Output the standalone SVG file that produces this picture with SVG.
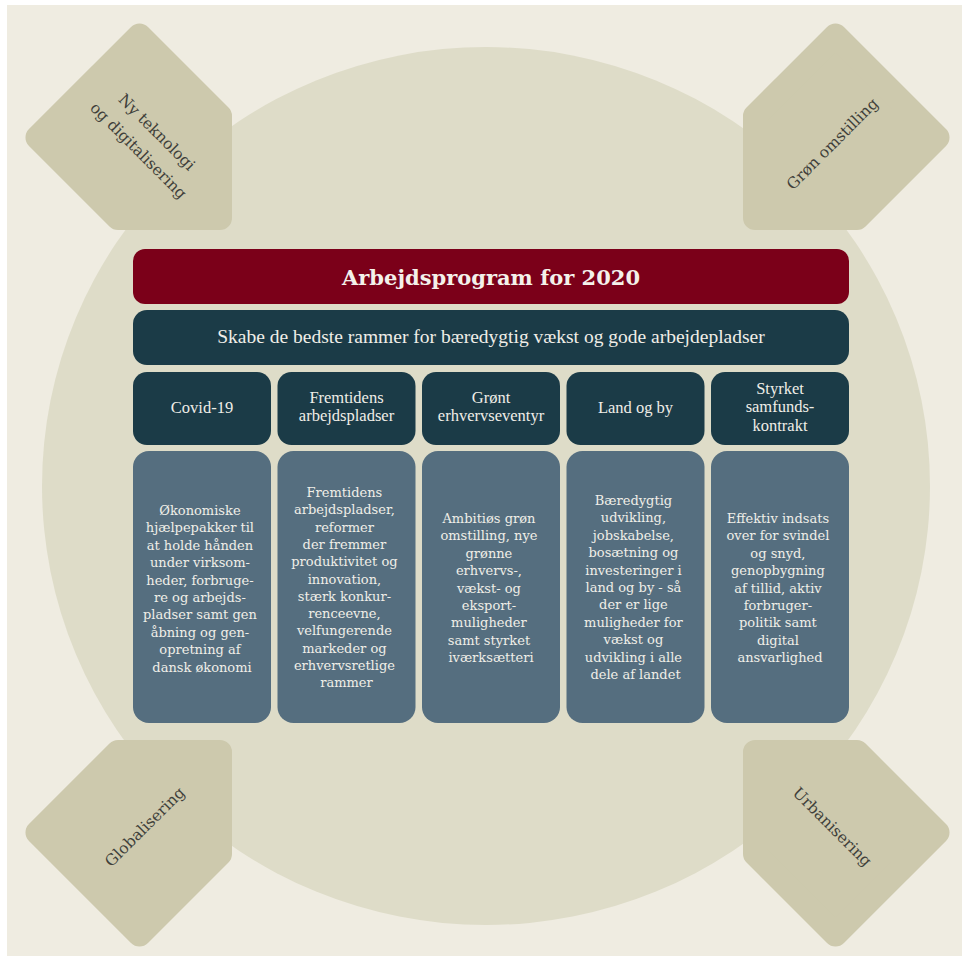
<svg xmlns="http://www.w3.org/2000/svg" width="969" height="962" viewBox="0 0 969 962">
<style>
.pent{fill:#CDC9AD;stroke:#CDC9AD;stroke-width:24;stroke-linejoin:round}
.ptxt{font-family:"DejaVu Serif","Liberation Serif",serif;font-size:15.5px;fill:#403F3A;text-anchor:middle}
.title{font-family:"DejaVu Serif","Liberation Serif",serif;font-size:21px;font-weight:bold;fill:#F4F1EA;text-anchor:middle}
.sub{font-family:"Liberation Serif",serif;font-size:19.5px;fill:#F0EEE8;text-anchor:middle}
.hd{font-family:"Liberation Serif",serif;font-size:16.5px;fill:#F0EEE8;text-anchor:middle}
.bd{font-family:"DejaVu Serif","Liberation Serif",serif;font-size:13px;fill:#F0EEE8;text-anchor:middle}
.hbox{fill:#1B3B47}
.bbox{fill:#556E7F}
</style>
<defs>
<polygon id="pshape" class="pent" points="139.5,35.47 220,115.97 220,218 117.97,218 37.47,137.5"/>
</defs>
<rect x="0" y="0" width="969" height="962" fill="#FFFFFF"/>
<rect x="7" y="5" width="955" height="951" fill="#EFECE1"/>
<ellipse cx="486" cy="486" rx="444" ry="439" fill="#DEDCC8"/>

<g id="node-ny-teknologi">
<use href="#pshape"/>
<g transform="translate(147.5,141.5) rotate(45)">
<text class="ptxt" x="0" y="-8">Ny teknologi</text>
<text class="ptxt" x="0" y="18">og digitalisering</text>
</g>
</g>
<g id="node-groen-omstilling">
<use href="#pshape" transform="matrix(-1,0,0,1,975,0)"/>
<text class="ptxt" transform="translate(832.5,144) rotate(-45)" x="0" y="5">Grøn omstilling</text>
</g>
<g id="node-globalisering">
<use href="#pshape" transform="matrix(1,0,0,-1,0,970)"/>
<text class="ptxt" transform="translate(145,827) rotate(-45)" x="0" y="5">Globalisering</text>
</g>
<g id="node-urbanisering">
<use href="#pshape" transform="matrix(-1,0,0,-1,975,970)"/>
<text class="ptxt" transform="translate(832,827) rotate(45)" x="0" y="5">Urbanisering</text>
</g>

<g id="node-title">
<rect x="133" y="249" width="716" height="55" rx="12" fill="#7B0019"/>
<text class="title" x="491" y="285">Arbejdsprogram for 2020</text>
</g>
<g id="node-subtitle">
<rect x="133" y="310" width="716" height="55" rx="14" class="hbox"/>
<text class="sub" x="491" y="343">Skabe de bedste rammer for bæredygtig vækst og gode arbejdepladser</text>
</g>

<g id="node-h1">
<rect x="133" y="372" width="138" height="73" rx="14" class="hbox"/>
<text class="hd" x="202" y="413">Covid-19</text>
</g>
<g id="node-h2">
<rect x="277.5" y="372" width="138" height="73" rx="14" class="hbox"/>
<text class="hd" x="346.5" y="403">Fremtidens</text>
<text class="hd" x="346.5" y="421">arbejdspladser</text>
</g>
<g id="node-h3">
<rect x="422" y="372" width="138" height="73" rx="14" class="hbox"/>
<text class="hd" x="491" y="403">Grønt</text>
<text class="hd" x="491" y="421">erhvervseventyr</text>
</g>
<g id="node-h4">
<rect x="566.5" y="372" width="138" height="73" rx="14" class="hbox"/>
<text class="hd" x="635.5" y="413">Land og by</text>
</g>
<g id="node-h5">
<rect x="711" y="372" width="138" height="73" rx="14" class="hbox"/>
<text class="hd" x="780" y="394">Styrket</text>
<text class="hd" x="780" y="412">samfunds-</text>
<text class="hd" x="780" y="431">kontrakt</text>
</g>

<g id="node-b1">
<rect x="133" y="451" width="138" height="272" rx="16" class="bbox"/>
<text class="bd" x="202">
<tspan x="202" y="515">Økonomiske</tspan>
<tspan x="202" dy="17.4">hjælpepakker til</tspan>
<tspan x="202" dy="17.4">at holde hånden</tspan>
<tspan x="202" dy="17.4">under virksom-</tspan>
<tspan x="202" dy="17.4">heder, forbruge-</tspan>
<tspan x="202" dy="17.4">re og arbejds-</tspan>
<tspan x="202" dy="17.4">pladser samt gen</tspan>
<tspan x="202" dy="17.4">åbning og gen-</tspan>
<tspan x="202" dy="17.4">opretning af</tspan>
<tspan x="202" dy="17.4">dansk økonomi</tspan>
</text>
</g>
<g id="node-b2">
<rect x="277.5" y="451" width="138" height="272" rx="16" class="bbox"/>
<text class="bd">
<tspan x="346.5" y="497">Fremtidens</tspan>
<tspan x="346.5" dy="17.3">arbejdspladser,</tspan>
<tspan x="346.5" dy="17.3">reformer</tspan>
<tspan x="346.5" dy="17.3">der fremmer</tspan>
<tspan x="346.5" dy="17.3">produktivitet og</tspan>
<tspan x="346.5" dy="17.3">innovation,</tspan>
<tspan x="346.5" dy="17.3">stærk konkur-</tspan>
<tspan x="346.5" dy="17.3">renceevne,</tspan>
<tspan x="346.5" dy="17.3">velfungerende</tspan>
<tspan x="346.5" dy="17.3">markeder og</tspan>
<tspan x="346.5" dy="17.3">erhvervsretlige</tspan>
<tspan x="346.5" dy="17.3">rammer</tspan>
</text>
</g>
<g id="node-b3">
<rect x="422" y="451" width="138" height="272" rx="16" class="bbox"/>
<text class="bd">
<tspan x="491" y="523">Ambitiøs grøn</tspan>
<tspan x="491" dy="17.4">omstilling, nye</tspan>
<tspan x="491" dy="17.4">grønne</tspan>
<tspan x="491" dy="17.4">erhvervs-,</tspan>
<tspan x="491" dy="17.4">vækst- og</tspan>
<tspan x="491" dy="17.4">eksport-</tspan>
<tspan x="491" dy="17.4">muligheder</tspan>
<tspan x="491" dy="17.4">samt styrket</tspan>
<tspan x="491" dy="17.4">iværksætteri</tspan>
</text>
</g>
<g id="node-b4">
<rect x="566.5" y="451" width="138" height="272" rx="16" class="bbox"/>
<text class="bd">
<tspan x="635.5" y="505">Bæredygtig</tspan>
<tspan x="635.5" dy="17.4">udvikling,</tspan>
<tspan x="635.5" dy="17.4">jobskabelse,</tspan>
<tspan x="635.5" dy="17.4">bosætning og</tspan>
<tspan x="635.5" dy="17.4">investeringer i</tspan>
<tspan x="635.5" dy="17.4">land og by - så</tspan>
<tspan x="635.5" dy="17.4">der er lige</tspan>
<tspan x="635.5" dy="17.4">muligheder for</tspan>
<tspan x="635.5" dy="17.4">vækst og</tspan>
<tspan x="635.5" dy="17.4">udvikling i alle</tspan>
<tspan x="635.5" dy="17.4">dele af landet</tspan>
</text>
</g>
<g id="node-b5">
<rect x="711" y="451" width="138" height="272" rx="16" class="bbox"/>
<text class="bd">
<tspan x="780" y="523">Effektiv indsats</tspan>
<tspan x="780" dy="17.4">over for svindel</tspan>
<tspan x="780" dy="17.4">og snyd,</tspan>
<tspan x="780" dy="17.4">genopbygning</tspan>
<tspan x="780" dy="17.4">af tillid, aktiv</tspan>
<tspan x="780" dy="17.4">forbruger-</tspan>
<tspan x="780" dy="17.4">politik samt</tspan>
<tspan x="780" dy="17.4">digital</tspan>
<tspan x="780" dy="17.4">ansvarlighed</tspan>
</text>
</g>
<g id="connectors"></g>
</svg>
